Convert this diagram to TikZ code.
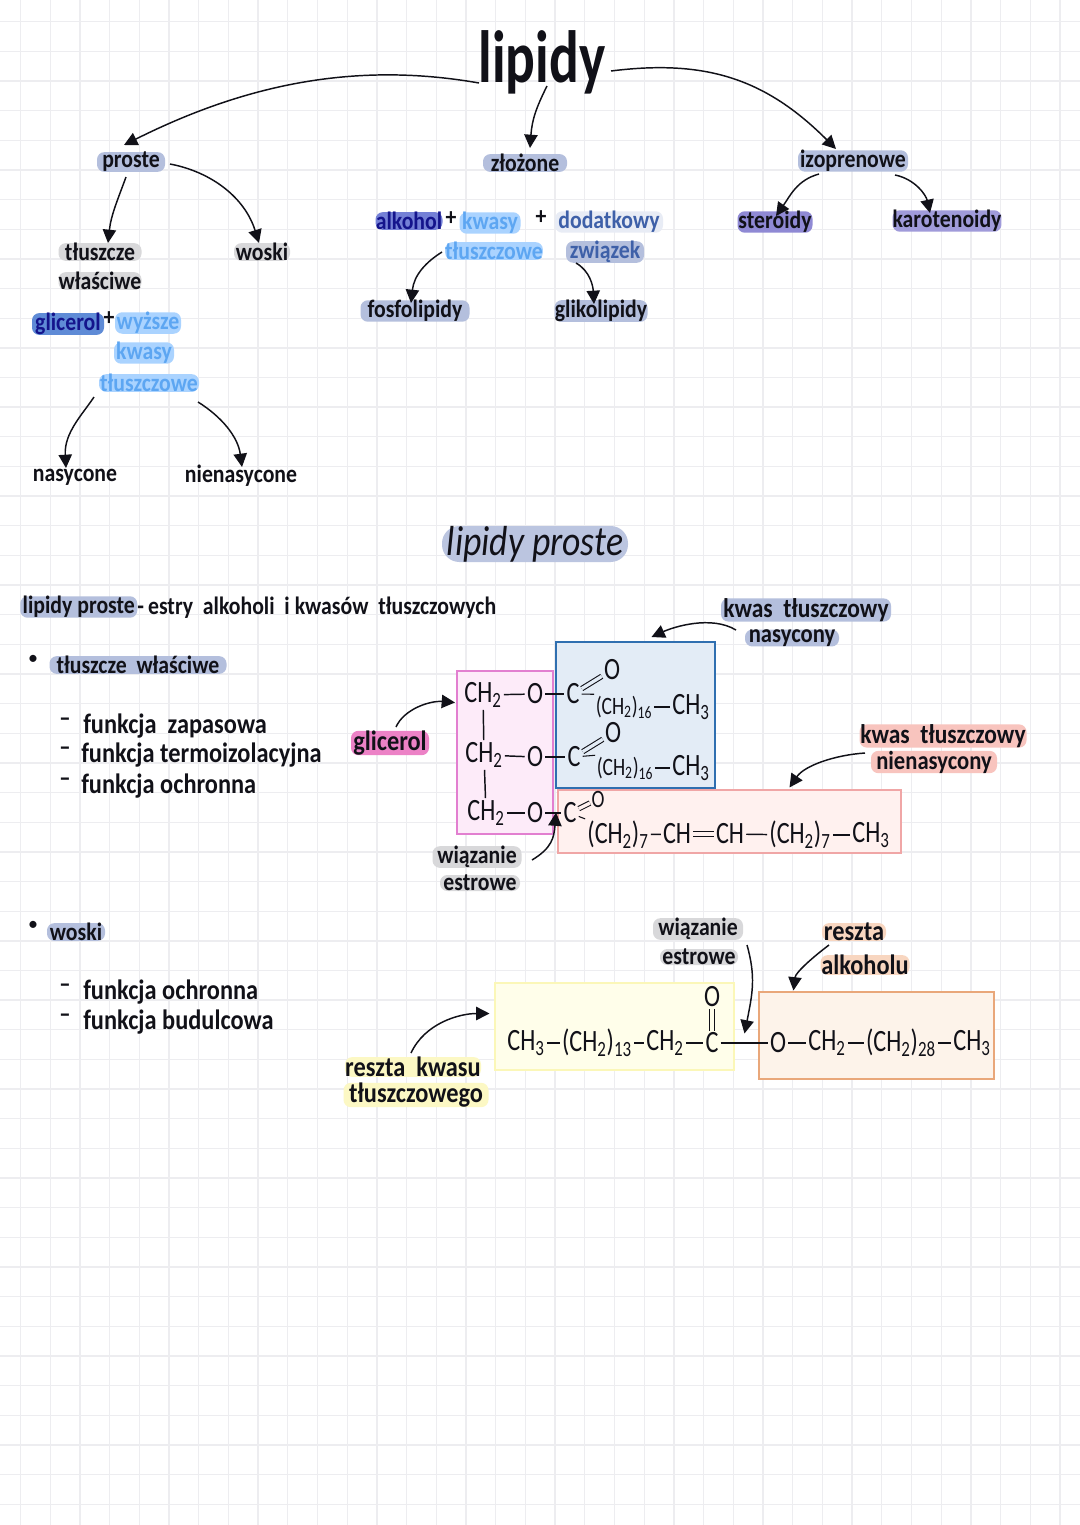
\documentclass[tikz,border=0pt]{standalone}
\usepackage{fontspec}
\usepackage{graphicx}
\usetikzlibrary{arrows.meta}
\setmainfont{Carlito}
\newfontfamily\handf{Carlito}[FakeStretch=0.87]
\newfontfamily\bigf{Carlito}[FakeStretch=0.75]
\newfontfamily\chem{Carlito}[FakeStretch=0.78]
\newcommand\hand{\handf\bfseries}
\newcommand\px[1]{\fontsize{\the\dimexpr #1pt*3/4\relax}{\the\dimexpr #1pt*9/10\relax}\selectfont}
\newcommand\sub[1]{\textsubscript{#1}}
\definecolor{gridc}{HTML}{EDEDF0}
\definecolor{ink}{HTML}{111118}
\definecolor{hlblue}{HTML}{B4BFDD}
\definecolor{hlgray}{HTML}{D8D8DA}
\definecolor{lblue}{HTML}{AAD3FF}
\definecolor{ltext}{HTML}{5DA6F2}
\definecolor{hlroyal}{HTML}{5F8BD6}
\definecolor{hlindigo}{HTML}{7480D6}
\definecolor{navy}{HTML}{14148C}
\definecolor{steel}{HTML}{3E60A8}
\definecolor{hlviolet}{HTML}{8F89D4}
\definecolor{hlpink}{HTML}{EC82C6}
\definecolor{hlsalmon}{HTML}{F8C4BE}
\definecolor{hlpeach}{HTML}{F8D6C0}
\definecolor{hlyellow}{HTML}{FCF8C4}
\definecolor{bluefill}{HTML}{E3ECF6}
\definecolor{bluestroke}{HTML}{2F6FB0}
\definecolor{pinkfill}{HTML}{FDEBF9}
\definecolor{pinkstroke}{HTML}{E27FD0}
\definecolor{redfill}{HTML}{FFF1EF}
\definecolor{redstroke}{HTML}{F0A6A6}
\definecolor{yelfill}{HTML}{FFFEEA}
\definecolor{yelstroke}{HTML}{FBF7B8}
\definecolor{orfill}{HTML}{FDF3EA}
\definecolor{orstroke}{HTML}{E9A77A}
\tikzset{
  lab/.style={inner sep=0pt,text=ink,font=\hand\px{25}},
  mw/.style={minimum width=#1*0.75pt},
  hl/.style={lab,fill=#1,rounded corners=5.5pt,minimum height=12pt},
  chm/.style={inner sep=1.5pt,text=ink,font=\chem\px{31}},
  chms/.style={inner sep=1pt,text=ink,font=\chem\px{25}},
  bond/.style={draw=ink,line width=1.1pt},
  dbl/.style={bond,double=#1,double distance=2.5pt,line width=.8pt},
  arr/.style={draw=ink,line width=1.1pt,-{Triangle[length=10pt,width=10pt]}},
  chembox/.style={draw=#1,line width=1pt,inner sep=0pt},
  dashm/.style={lab,font=\hand\px{26}},
  fun/.style={lab,anchor=west,font=\hand\px{28}},
}
\begin{document}
\begin{tikzpicture}[x=0.75pt,y=-0.75pt]
\useasboundingbox (0,0) rectangle (1080,1525);
\fill[white] (0,0) rectangle (1080,1525);
\foreach \i in {0,...,35} \draw[gridc,line width=1pt] ({20.5+29.7*\i},0) -- ({20.5+29.7*\i},1525);
\foreach \i in {0,...,50} \draw[gridc,line width=1pt] (0,{21.7+29.65*\i}) -- (1080,{21.7+29.65*\i});

% --- top tree
\node[lab,font=\bigf\bfseries\px{74}] (lipidy) at (542,62) {lipidy};
\node[hl=hlblue,mw=68] (proste) at (131,162) {proste};
\node[hl=hlblue,mw=84] (zlozone) at (525,163) {złożone};
\node[hl=hlblue,mw=110] (izo) at (853,161) {izoprenowe};
\node[hl=hlgray,mw=83] (tluszcze) at (100,252) {tłuszcze};
\node[hl=hlgray,mw=83] (wlasciwe) at (100,281) {właściwe};
\node[hl=hlgray,mw=56] (woski) at (262,252) {woski};
\node[hl=hlroyal,mw=72,text=navy] (glicerol) at (68,324) {glicerol};
\node[lab] (plusa) at (109,319) {+};
\node[hl=lblue,mw=66,text=ltext] (wyzsze) at (148,323) {wyższe};
\node[hl=lblue,mw=60,text=ltext] (kwasya) at (144,353) {kwasy};
\node[hl=lblue,mw=100,text=ltext] (tlusza) at (149,383) {tłuszczowe};
\node[lab] (nasycone) at (75,477) {nasycone};
\node[lab] (nienasycone) at (241,476) {nienasycone};
\node[hl=hlindigo,mw=67,text=navy] (alkohol) at (409,221) {alkohol};
\node[lab] (plusb) at (451,219) {+};
\node[hl=lblue,mw=61,text=ltext] (kwasyb) at (490,223) {kwasy};
\node[hl=lblue,mw=94,text=ltext] (tluszb) at (494,251) {tłuszczowe};
\node[lab] (plusc) at (541,218) {+};
\node[hl=white!70!hlblue,mw=108,text=steel] (dodatkowy) at (609,222) {dodatkowy};
\node[hl=hlblue,mw=78,text=steel] (zwiazek) at (605,252) {związek};
\node[hl=hlblue,mw=109] (fosfo) at (415,311) {fosfolipidy};
\node[hl=hlblue,mw=93] (gliko) at (601,311) {glikolipidy};
\node[hl=hlviolet,mw=75] (steroidy) at (775,222) {steroidy};
\node[hl=hlviolet!85!white,mw=108] (karot) at (947,221) {karotenoidy};

\draw[arr] ([shift={(-63,21)}]lipidy.center) .. controls +(-125,-22) and +(120,-60) .. ([shift={(-7,-17)}]proste.center);
\draw[arr] ([shift={(5,24)}]lipidy.center) .. controls +(-11,22) and +(2,-28) .. ([shift={(5,-15)}]zlozone.center);
\draw[arr] ([shift={(69,9)}]lipidy.center) .. controls +(95,-12) and +(-70,-70) .. ([shift={(-17,-12)}]izo.center);
\draw[arr] ([shift={(-5,15)}]proste.center) .. controls +(-8,22) and +(3,-28) .. ([shift={(8,-9)}]tluszcze.center);
\draw[arr] ([shift={(39,2)}]proste.center) .. controls +(42,8) and +(-14,-45) .. ([shift={(-3,-9)}]woski.center);
\draw[arr] ([shift={(-55,14)}]tlusza.center) .. controls +(-12,18) and +(-2,-35) .. ([shift={(-9,-9)}]nasycone.center);
\draw[arr] ([shift={(49,19)}]tlusza.center) .. controls +(24,15) and +(-4,-30) .. ([shift={(1,-9)}]nienasycone.center);
\draw[arr] ([shift={(-52,1)}]tluszb.center) .. controls +(-16,10) and +(3,-28) .. ([shift={(-4,-8)}]fosfo.center);
\draw[arr] ([shift={(-29,11)}]zwiazek.center) .. controls +(14,8) and +(-1,-18) .. ([shift={(-7,-7)}]gliko.center);
\draw[arr] ([shift={(-34,13)}]izo.center) .. controls +(-22,6) and +(14,-20) .. ([shift={(1,-6)}]steroidy.center);
\draw[arr] ([shift={(42,14)}]izo.center) .. controls +(20,4) and +(-4,-18) .. ([shift={(-17,-8)}]karot.center);

% --- title and text
\node[fill=hlblue!90!white,rounded corners=13pt,minimum height=27pt,mw=186,inner sep=0pt,text=ink,font=\rmfamily\itshape\px{42}] (title) at (535,544) {\scalebox{0.85}[1]{lipidy proste}};
\node[hl=hlblue,mw=117,anchor=west] (lp) at (20,607) {lipidy proste};
\node[lab,anchor=west] (lpdef) at (137,608) {-\,estry\ \ alkoholi\ \ i\ kwasów\ \ tłuszczowych};
\node[lab,font=\px{20}] (bulla) at (33,660) {•};
\node[hl=hlblue,mw=177] (tw) at (138,665) {tłuszcze\ \ właściwe};
\node[lab,font=\px{20}] (bullb) at (33,926) {•};
\node[hl=hlblue,mw=58] (wo) at (76,932) {woski};
\node[dashm] (d1) at (65,722) {–};
\node[dashm] (d2) at (65,751) {–};
\node[dashm] (d3) at (65,782) {–};
\node[dashm] (d4) at (65,988) {–};
\node[dashm] (d5) at (65,1018) {–};
\node[fun] (f1) at (83,726) {funkcja\ \ zapasowa};
\node[fun] (f2) at (81,755) {funkcja\ termoizolacyjna};
\node[fun] (f3) at (81,786) {funkcja\ ochronna};
\node[fun] (f4) at (83,992) {funkcja\ ochronna};
\node[fun] (f5) at (83,1022) {funkcja\ budulcowa};

% --- triglyceride
\node[chembox=bluestroke,fill=bluefill,minimum width=119.25pt,minimum height=109.5pt] (bluebox) at (635.5,715) {};
\node[chembox=pinkstroke,fill=pinkfill,minimum width=72pt,minimum height=122.25pt] (pinkbox) at (505,752.5) {};
\node[chembox=redstroke,fill=redfill,minimum width=257.25pt,minimum height=47.25pt] (redbox) at (729.5,821.5) {};

\node[chm] (c1) at (483,695) {CH\sub{2}};
\node[chm] (o1) at (535,694) {O};
\node[chm] (k1) at (573,694) {C};
\node[chm] (ox1) at (612,670) {O};
\node[chms] (s1) at (624,707) {(CH\sub{2})\sub{16}};
\node[chm] (m1) at (691,707) {CH\sub{3}};
\node[chm] (c2) at (484,755) {CH\sub{2}};
\node[chm] (o2) at (535,757) {O};
\node[chm] (k2) at (574,757) {C};
\node[chm] (ox2) at (613,733) {O};
\node[chms] (s2) at (625,768) {(CH\sub{2})\sub{16}};
\node[chm] (m2) at (691,768) {CH\sub{3}};
\node[chm] (c3) at (486,813) {CH\sub{2}};
\node[chm] (o3) at (535,813) {O};
\node[chm] (k3) at (570,813) {C};
\node[chms] (ox3) at (598,799) {O};
\node[chm] (r1) at (618,835) {(CH\sub{2})\sub{7}};
\node[chm] (h1) at (677,834) {CH};
\node[chm] (h2) at (730,834) {CH};
\node[chm] (r2) at (800,835) {(CH\sub{2})\sub{7}};
\node[chm] (m3) at (871,835) {CH\sub{3}};

\draw[bond] (c1) -- (o1);
\draw[bond] (o1) -- (k1);
\draw[dbl=bluefill] (k1) -- (ox1);
\draw[bond,line width=.8pt] (k1) -- (s1.north west);
\draw[bond] (s1) -- (m1);
\draw[bond] (c1) -- (c2);
\draw[bond] (c2) -- (o2);
\draw[bond] (o2) -- (k2);
\draw[dbl=bluefill] (k2) -- (ox2);
\draw[bond,line width=.8pt] (k2) -- (s2.north west);
\draw[bond] (s2) -- (m2);
\draw[bond] (c2) -- (c3);
\draw[bond] (c3) -- (o3);
\draw[bond] (o3) -- (k3);
\draw[dbl=redfill] (k3) -- (ox3);
\draw[bond,line width=.8pt] (k3) -- (r1.north west);
\draw[bond] (r1) -- (h1);
\draw[dbl=redfill] (h1) -- (h2);
\draw[bond] (h2) -- (r2);
\draw[bond] (r2) -- (m3);

\node[hl=hlpink,mw=78,font=\hand\px{28}] (glic) at (390,743) {glicerol};
\node[hl=hlblue,mw=170,font=\hand\px{27}] (kn1) at (806,610) {kwas\ \ tłuszczowy};
\node[hl=hlblue,mw=94,font=\hand\px{26}] (kn2) at (792,638) {nasycony};
\node[hl=hlsalmon,mw=167,font=\hand\px{27}] (kz1) at (943,736) {kwas\ \ tłuszczowy};
\node[hl=hlsalmon,mw=126,font=\hand\px{26}] (kz2) at (934,762) {nienasycony};
\node[hl=hlgray,mw=89] (wz1) at (477,857) {wiązanie};
\node[hl=hlgray,mw=80] (wz2) at (480,883) {estrowe};

\draw[arr] ([shift={(6,-16)}]glic.center) .. controls +(8,-18) and +(-25,-2) .. ([shift={(-50,-50)}]pinkbox.center);
\draw[arr] ([shift={(-56,-8)}]kn2.center) .. controls +(-25,-15) and +(22,-10) .. ([shift={(16,-78)}]bluebox.center);
\draw[arr] ([shift={(-69,-9)}]kz2.center) .. controls +(-30,2) and +(15,-22) .. ([shift={(60,-34)}]redbox.center);
\draw[arr] ([shift={(55,3)}]wz1.center) .. controls +(20,-12) and +(-2,25) .. ([shift={(51,60)}]pinkbox.center);

% --- wax
\node[chembox=yelstroke,fill=yelfill,minimum width=179.25pt,minimum height=65.25pt] (yellowbox) at (614.5,1026.5) {};
\node[chembox=orstroke,fill=orfill,minimum width=176.25pt,minimum height=65.25pt] (orangebox) at (876.5,1035.5) {};

\node[chm] (a1) at (526,1043) {CH\sub{3}};
\node[chm] (a2) at (597,1043) {(CH\sub{2})\sub{13}};
\node[chm] (a3) at (665,1043) {CH\sub{2}};
\node[chm] (a4) at (712,1043) {C};
\node[chm] (a5) at (712,997) {O};
\node[chm] (a6) at (778,1043) {O};
\node[chm] (a7) at (827,1043) {CH\sub{2}};
\node[chm] (a8) at (901,1043) {(CH\sub{2})\sub{28}};
\node[chm] (a9) at (972,1043) {CH\sub{3}};
\draw[bond] (a1) -- (a2);
\draw[bond] (a2) -- (a3);
\draw[bond] (a3) -- (a4);
\draw[dbl=yelfill] (a4) -- (a5);
\draw[bond] (a4) -- (a6);
\draw[bond] (a6) -- (a7);
\draw[bond] (a7) -- (a8);
\draw[bond] (a8) -- (a9);

\node[hl=hlgray,mw=90] (we1) at (698,929) {wiązanie};
\node[hl=hlgray,mw=78] (we2) at (699,957) {estrowe};
\node[hl=hlpeach,mw=64,font=\hand\px{28}] (re1) at (854,932) {reszta};
\node[hl=hlpeach,mw=89,font=\hand\px{28}] (re2) at (865,965) {alkoholu};
\node[hl=hlyellow,mw=136,font=\hand\px{28}] (rk1) at (413,1067) {reszta\ \ kwasu};
\node[hl=hlyellow,mw=145,font=\hand\px{28}] (rk2) at (416,1095) {tłuszczowego};

\draw[arr] ([shift={(48,-12)}]we2.center) .. controls +(9,32) and +(8,-40) .. ([shift={(-132,-2)}]orangebox.center);
\draw[arr] ([shift={(-36,-20)}]re2.center) .. controls +(-16,12) and +(2,-18) .. ([shift={(-83,-45)}]orangebox.center);
\draw[arr] ([shift={(-2,-14)}]rk1.center) .. controls +(14,-30) and +(-30,0) .. ([shift={(-125,-13)}]yellowbox.center);
\end{tikzpicture}
\end{document}
